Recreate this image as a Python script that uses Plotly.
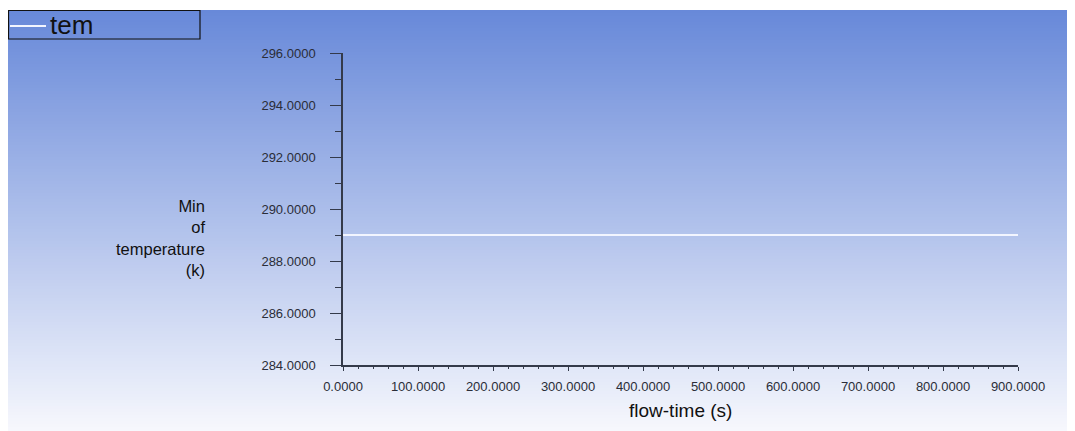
import plotly.graph_objects as go

# ---- data ----
flow_time = [0, 100, 200, 300, 400, 500, 600, 700, 800, 900]
min_temperature = [289.0, 289.0, 289.0, 289.0, 289.0, 289.0, 289.0, 289.0, 289.0, 289.0]
series_name = "tem"
x_title = "flow-time (s)"
y_title_lines = ["Min", "of", "temperature", "(k)"]

OFF = 8  # page body margin
W, H = 1075 - OFF, 431 - OFF
L, R, T, B = 343 - OFF, 1018 - OFF, 53 - OFF, 365 - OFF  # plot area in figure pixels
PW, PH = R - L, B - T


def px_x(px):  # px given in screen coordinates
    return (px - OFF - L) / PW


def px_y(py):
    return (B - (py - OFF)) / PH


FONT = "Liberation Sans, Arial, sans-serif"

fig = go.Figure()
fig.add_trace(go.Scatter(
    x=flow_time, y=min_temperature, mode="lines", name=series_name,
    line=dict(color="#f2f5ff", width=2), showlegend=False, hoverinfo="x+y",
))

shapes = []
# gradient background
top_c = (104, 137, 217)
bot_c = (247, 248, 253)
y0, y1 = 10, 431
step = 3
py = y0
while py < y1:
    t = (py - y0) / (y1 - y0)
    c = tuple(round(top_c[i] + (bot_c[i] - top_c[i]) * t) for i in range(3))
    shapes.append(dict(
        type="rect", xref="paper", yref="paper", layer="below",
        x0=px_x(0), x1=px_x(1080), y0=px_y(min(py + step + 0.5, y1 + 5)), y1=px_y(py),
        fillcolor="rgb(%d,%d,%d)" % c, line=dict(width=0),
    ))
    py += step

# legend box
shapes.append(dict(type="rect", xref="paper", yref="paper", layer="above",
                   x0=px_x(8.5), x1=px_x(200), y0=px_y(39), y1=px_y(10.5),
                   fillcolor="rgba(0,0,0,0)", line=dict(color="#111", width=1.2)))
shapes.append(dict(type="line", xref="paper", yref="paper", layer="above",
                   x0=px_x(10), x1=px_x(46), y0=px_y(26), y1=px_y(26),
                   line=dict(color="#f2f5ff", width=2)))

annotations = [
    dict(text=series_name, xref="paper", yref="paper", x=px_x(48), y=px_y(25),
         xanchor="left", yanchor="middle", showarrow=False,
         font=dict(family=FONT, size=26, color="#111")),
    dict(text=x_title, xref="paper", yref="paper", x=px_x(680), y=px_y(410),
         xanchor="center", yanchor="middle", showarrow=False,
         font=dict(family=FONT, size=19, color="#111")),
    dict(text="<br>".join(y_title_lines), xref="paper", yref="paper",
         x=px_x(207), y=px_y(238), xanchor="right", yanchor="middle", align="right",
         showarrow=False, font=dict(family=FONT, size=16.5, color="#111")),
]

axis_color = "#343a4a"
fig.update_layout(
    width=W, height=H,
    margin=dict(l=L, r=W - R, t=T, b=H - B, pad=0),
    paper_bgcolor="white", plot_bgcolor="rgba(0,0,0,0)",
    shapes=shapes, annotations=annotations, showlegend=False,
    xaxis=dict(range=[0, 900], dtick=100, tick0=0, tickformat=".4f",
               showgrid=False, zeroline=False, showline=True, linecolor=axis_color, linewidth=1.5,
               ticks="outside", ticklen=4, tickwidth=1.3, tickcolor=axis_color,
               minor=dict(dtick=20, ticks="outside", ticklen=2, tickwidth=1, tickcolor=axis_color),
               ticklabelstandoff=5,
               tickfont=dict(family=FONT, size=13, color="#2a2d38")),
    yaxis=dict(range=[284, 296], dtick=2, tick0=284, tickformat=".4f",
               showgrid=False, zeroline=False, showline=True, linecolor=axis_color, linewidth=1.5,
               ticks="outside", ticklen=11, tickwidth=1.3, tickcolor=axis_color,
               minor=dict(dtick=1, ticks="outside", ticklen=6, tickwidth=1.3, tickcolor=axis_color),
               ticklabelstandoff=12,
               tickfont=dict(family=FONT, size=13, color="#2a2d38")),
)

fig.write_html("out.html")
